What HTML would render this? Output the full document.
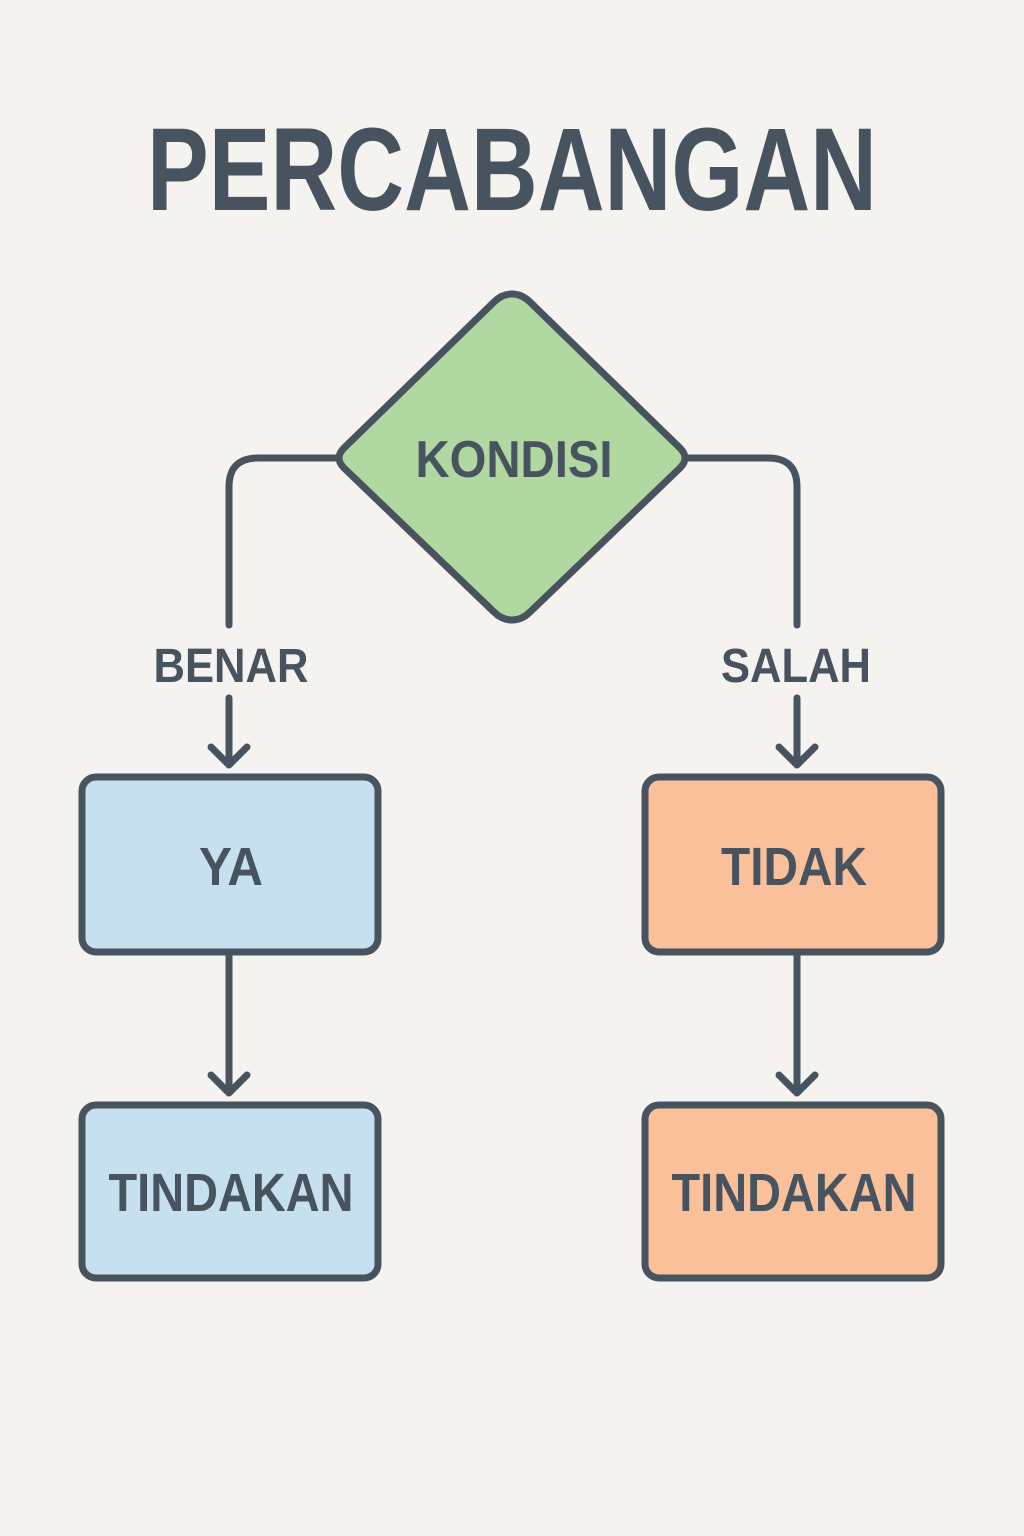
<!DOCTYPE html>
<html><head><meta charset="utf-8"><style>html,body{margin:0;padding:0;background:#f4f3ef}svg{display:block}</style></head>
<body>
<svg width="1024" height="1536" viewBox="0 0 1024 1536" xmlns="http://www.w3.org/2000/svg" font-family="'Liberation Sans', sans-serif" font-weight="bold">
<rect width="1024" height="1536" fill="#f4f3ef"/>
<text x="512" y="210" font-size="118" fill="#47535f" text-anchor="middle" textLength="730" lengthAdjust="spacingAndGlyphs">PERCABANGAN</text>
<g fill="none" stroke="#47535f" stroke-width="7" stroke-linecap="round" stroke-linejoin="round">
<path d="M336 458 H258 Q229 458 229 487 V625"/>
<path d="M688 458 H768 Q797 458 797 487 V625"/>
<path d="M229 698 V765 M211 747 L229 765 L247 747"/>
<path d="M797 698 V765 M779 747 L797 765 L815 747"/>
<path d="M229 952 V1093 M211 1075 L229 1093 L247 1075"/>
<path d="M797 952 V1093 M779 1075 L797 1093 L815 1075"/>
</g>
<path d="M512 294 Q522 294 530 302 L680 448 Q690 458 680 468 L530 612 Q522 620 512 620 Q502 620 494 612 L344 468 Q334 458 344 448 L494 302 Q502 294 512 294 Z" fill="#b1d8a0" stroke="#47535f" stroke-width="7" stroke-linejoin="round"/>
<rect x="82" y="777" width="296" height="175" rx="14" fill="#c6e0ef" stroke="#47535f" stroke-width="7"/>
<rect x="645" y="777" width="296" height="175" rx="14" fill="#f9c09a" stroke="#47535f" stroke-width="7"/>
<rect x="82" y="1105" width="296" height="173" rx="14" fill="#c6e0ef" stroke="#47535f" stroke-width="7"/>
<rect x="645" y="1105" width="296" height="173" rx="14" fill="#f9c09a" stroke="#47535f" stroke-width="7"/>
<g fill="#47535f" text-anchor="middle">
<text x="514" y="477" font-size="52" textLength="197" lengthAdjust="spacingAndGlyphs">KONDISI</text>
<text x="231" y="682" font-size="48" textLength="155" lengthAdjust="spacingAndGlyphs">BENAR</text>
<text x="796" y="682" font-size="48" textLength="150" lengthAdjust="spacingAndGlyphs">SALAH</text>
<text x="231" y="885" font-size="54" textLength="64" lengthAdjust="spacingAndGlyphs">YA</text>
<text x="794" y="885" font-size="54" textLength="146" lengthAdjust="spacingAndGlyphs">TIDAK</text>
<text x="231" y="1211" font-size="54" textLength="245" lengthAdjust="spacingAndGlyphs">TINDAKAN</text>
<text x="794" y="1211" font-size="54" textLength="245" lengthAdjust="spacingAndGlyphs">TINDAKAN</text>
</g>
</svg>
</body></html>
